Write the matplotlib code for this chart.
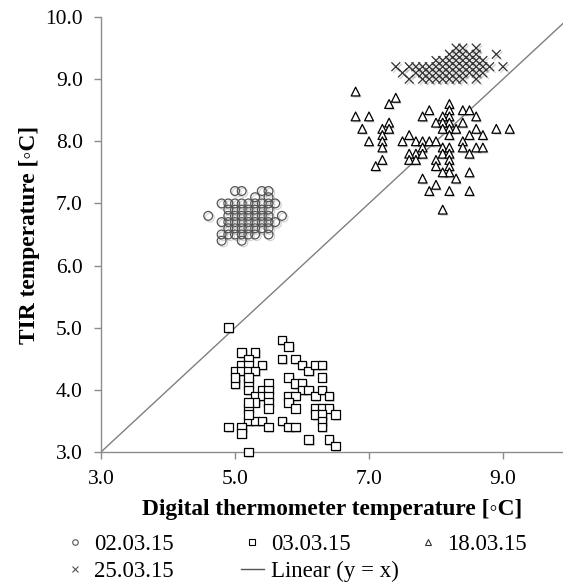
import numpy as np
import matplotlib.pyplot as plt
import matplotlib.patheffects as pe
from matplotlib.lines import Line2D

plt.rcParams['font.family'] = ['Liberation Serif', 'DejaVu Sans']

# 02.03.15 (circles)
circ_x = [5.0, 5.1, 5.4, 5.5,
          5.3, 5.5,
          4.8, 4.9, 5.0, 5.1, 5.2, 5.3, 5.4, 5.5, 5.6,
          4.9, 5.0, 5.1, 5.2, 5.3, 5.4, 5.5,
          4.6, 4.9, 5.0, 5.1, 5.2, 5.3, 5.4, 5.5, 5.7,
          4.8, 4.9, 5.0, 5.1, 5.2, 5.3, 5.4, 5.5, 5.6,
          4.9, 5.0, 5.1, 5.2, 5.3, 5.4, 5.5,
          4.8, 4.9, 5.0, 5.1, 5.2, 5.3, 5.5,
          4.8, 5.1]
circ_y = [7.2, 7.2, 7.2, 7.2,
          7.1, 7.1,
          7.0, 7.0, 7.0, 7.0, 7.0, 7.0, 7.0, 7.0, 7.0,
          6.9, 6.9, 6.9, 6.9, 6.9, 6.9, 6.9,
          6.8, 6.8, 6.8, 6.8, 6.8, 6.8, 6.8, 6.8, 6.8,
          6.7, 6.7, 6.7, 6.7, 6.7, 6.7, 6.7, 6.7, 6.7,
          6.6, 6.6, 6.6, 6.6, 6.6, 6.6, 6.6,
          6.5, 6.5, 6.5, 6.5, 6.5, 6.5, 6.5,
          6.4, 6.4]

# 03.03.15 (squares)
sq_x = [4.9, 5.7, 5.8, 5.1, 5.3, 5.2, 5.4, 5.1, 5.2, 5.0, 5.1, 5.2, 5.3,
        5.0, 5.2, 5.7, 5.9, 6.0, 6.1, 6.2, 6.3, 5.8, 6.3, 5.5, 5.9, 6.0,
        6.0, 6.1, 6.2, 6.3, 6.4, 5.4, 5.5, 5.2, 5.2, 5.3, 5.4, 5.5, 5.8,
        5.9, 5.3, 5.5, 5.5, 5.8, 5.2, 5.9, 6.2, 6.3, 6.4, 6.2, 6.3, 6.5,
        5.2, 5.3, 5.4, 5.7, 5.5, 5.8, 5.9, 4.9, 5.1, 5.1, 6.3, 6.3, 6.1,
        6.4, 6.5, 5.2, 5.2, 5.0, 5.2]
sq_y = [5.0, 4.8, 4.7, 4.6, 4.6, 4.5, 4.4, 4.4, 4.4, 4.3, 4.3, 4.3, 4.3,
        4.1, 4.1, 4.5, 4.5, 4.4, 4.3, 4.4, 4.4, 4.2, 4.2, 4.1, 4.1, 4.1,
        4.0, 4.0, 3.9, 4.0, 3.9, 4.0, 4.0, 4.2, 4.0, 3.9, 3.9, 3.9, 3.9,
        3.9, 3.8, 3.8, 3.7, 3.8, 3.7, 3.7, 3.7, 3.7, 3.7, 3.6, 3.6, 3.6,
        3.5, 3.5, 3.5, 3.5, 3.4, 3.4, 3.4, 3.4, 3.4, 3.3, 3.5, 3.4, 3.2,
        3.2, 3.1, 3.0, 3.8, 4.2, 3.6]

# 18.03.15 (triangles)
tri_x = [6.8, 7.4, 7.3, 8.2, 6.8, 7.0, 7.9, 7.8, 8.4, 8.5, 8.6,
         8.2, 8.2, 8.2, 8.2, 8.2, 8.1, 8.1, 8.1, 8.0, 7.3, 7.2, 7.3,
         8.4, 6.9, 8.3, 8.6, 8.9, 9.1, 7.2, 7.2, 7.2, 7.0, 7.6,
         7.5, 7.7, 7.8, 7.9, 8.0, 8.1, 8.2, 8.1, 8.2, 8.2, 8.2, 8.2, 8.1,
         8.4, 8.5, 8.7, 8.4, 8.6, 8.7, 7.8, 7.7, 7.8, 7.6, 7.6, 7.7,
         8.5, 7.2, 7.1, 8.0, 8.0, 8.5, 7.8, 8.3, 8.0, 7.9, 8.2, 8.5, 8.1]
tri_y = [8.8, 8.7, 8.6, 8.6, 8.4, 8.4, 8.5, 8.4, 8.5, 8.5, 8.4,
         8.5, 8.4, 8.3, 8.2, 8.1, 8.4, 8.3, 8.2, 8.3, 8.3, 8.2, 8.2,
         8.3, 8.2, 8.2, 8.2, 8.2, 8.2, 8.1, 8.0, 7.9, 8.0, 8.1,
         8.0, 8.0, 8.0, 8.0, 8.0, 7.9, 7.9, 7.8, 7.8, 7.7, 7.6, 7.5, 7.5,
         8.0, 8.1, 8.1, 7.9, 7.9, 7.9, 7.9, 7.8, 7.8, 7.8, 7.7, 7.7,
         7.8, 7.7, 7.6, 7.7, 7.6, 7.5, 7.4, 7.4, 7.3, 7.2, 7.2, 7.2, 6.9]

# 25.03.15 (crosses)
cr_x = [8.3, 8.4, 8.6,
        8.2, 8.3, 8.4, 8.5, 8.6, 8.9,
        8.0, 8.1, 8.2, 8.3, 8.4, 8.5, 8.6, 8.7,
        7.4, 7.6, 7.7, 7.8, 7.9, 8.0, 8.1, 8.2, 8.3, 8.4, 8.5, 8.6, 8.7, 8.8, 9.0,
        7.5, 7.7, 7.8, 7.9, 8.0, 8.1, 8.2, 8.3, 8.4, 8.5, 8.6, 8.7,
        7.6, 7.8, 7.9, 8.0, 8.1, 8.2, 8.3, 8.4, 8.6]
cr_y = [9.5, 9.5, 9.5,
        9.4, 9.4, 9.4, 9.4, 9.4, 9.4,
        9.3, 9.3, 9.3, 9.3, 9.3, 9.3, 9.3, 9.3,
        9.2, 9.2, 9.2, 9.2, 9.2, 9.2, 9.2, 9.2, 9.2, 9.2, 9.2, 9.2, 9.2, 9.2, 9.2,
        9.1, 9.1, 9.1, 9.1, 9.1, 9.1, 9.1, 9.1, 9.1, 9.1, 9.1, 9.1,
        9.0, 9.0, 9.0, 9.0, 9.0, 9.0, 9.0, 9.0, 9.0]

line_x = [3.0, 10.0]

fig = plt.figure(figsize=(5.63, 5.85), dpi=100)
ax = fig.add_axes([101/563, 1 - 452/585, 462/563, 435/585])

shadow = [pe.SimplePatchShadow(offset=(1.2, -1.2), shadow_rgbFace='0.5', alpha=0.35), pe.Normal()]
lshadow = [pe.SimpleLineShadow(offset=(1.2, -1.2), shadow_color='0.5', alpha=0.35), pe.Normal()]

ax.plot(line_x, line_x, color='#7f7f7f', lw=1.0, zorder=1)
ax.scatter(circ_x, circ_y, s=40, marker='o', facecolors='none', edgecolors='#555555',
           linewidths=0.9, clip_on=False, path_effects=lshadow, zorder=3)
ax.scatter(sq_x, sq_y, s=38, marker='s', facecolors='white', edgecolors='black',
           linewidths=0.9, clip_on=False, path_effects=shadow, zorder=3)
ax.scatter(tri_x, tri_y, s=40, marker='^', facecolors='white', edgecolors='black',
           linewidths=0.9, clip_on=False, path_effects=shadow, zorder=3)
ax.scatter(cr_x, cr_y, s=40, marker='x', color='#333333',
           linewidths=0.9, clip_on=False, path_effects=lshadow, zorder=3)

ax.set_xlim(3, 3 + 462/67)
ax.set_ylim(3, 10)
ax.set_xticks([3, 5, 7, 9])
ax.set_yticks(np.arange(3, 10.5, 1.0))
ax.xaxis.set_major_formatter(plt.FormatStrFormatter('%.1f'))
ax.yaxis.set_major_formatter(plt.FormatStrFormatter('%.1f'))
for s in ['top', 'right']:
    ax.spines[s].set_visible(False)
for s in ['left', 'bottom']:
    ax.spines[s].set_color('#8c8c8c')
    ax.spines[s].set_linewidth(1.0)
ax.tick_params(direction='out', length=5, width=1.0, color='#8c8c8c',
               labelsize=15.5, pad=8, labelcolor='black')

ax.set_xlabel('Digital thermometer temperature [◦C]', fontsize=16.8, fontweight='bold', labelpad=7)
ax.set_ylabel('TIR temperature [◦C]', fontsize=16.8, fontweight='bold', labelpad=4)

# legend, Excel style fixed column positions
h_circ = Line2D([], [], ls='none', marker='o', ms=4, mfc='none', mec='#555555', mew=0.8)
h_sq = Line2D([], [], ls='none', marker='s', ms=4, mfc='white', mec='black', mew=0.8)
h_tri = Line2D([], [], ls='none', marker='^', ms=4, mfc='white', mec='#333333', mew=0.8)
h_cr = Line2D([], [], ls='none', marker='x', ms=5, color='#555555', mew=0.8)
h_line = Line2D([], [], color='#555555', lw=1.0)

common = dict(loc='upper left', frameon=False, fontsize=16.5, handlelength=1.0,
              handletextpad=0.3, borderpad=0, borderaxespad=0, labelspacing=0.25)
fig.legend([h_circ, h_cr], ['02.03.15', '25.03.15'], bbox_to_anchor=(64/563, 1 - 534/585), **common)
fig.legend([h_sq, h_line], ['03.03.15', 'Linear (y = x)'], bbox_to_anchor=(241/563, 1 - 534/585), **common)
fig.legend([h_tri], ['18.03.15'], bbox_to_anchor=(417/563, 1 - 534/585), **common)

plt.savefig('out.png', dpi=100)
